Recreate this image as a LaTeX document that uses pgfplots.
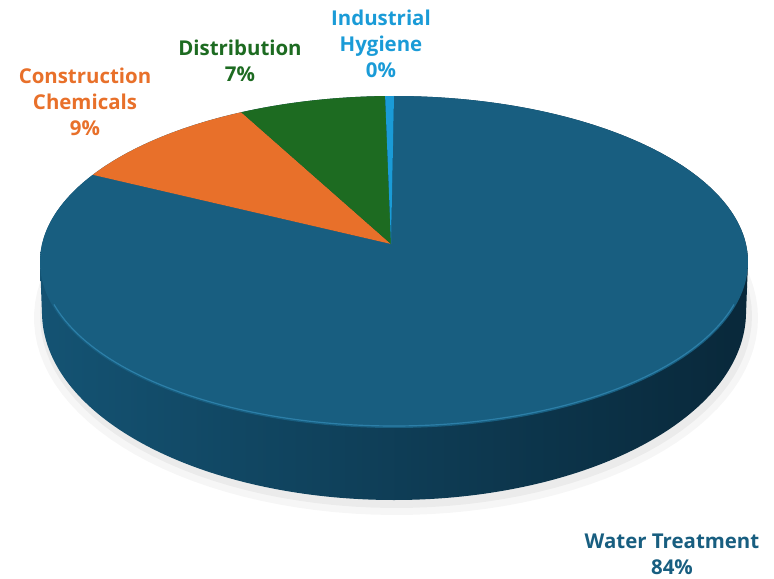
\documentclass[border=0pt]{standalone}
\usepackage{fontspec}
\setmainfont{Open Sans}
\usepackage{pgfplots}
\pgfplotsset{compat=1.18}
\definecolor{cWater}{HTML}{185E80}
\definecolor{cWaterL}{HTML}{2C7FA8}
\definecolor{cSideA}{HTML}{145373}
\definecolor{cSideB}{HTML}{0E3E58}
\definecolor{cSideC}{HTML}{09283A}
\definecolor{cCons}{HTML}{E8702A}
\definecolor{cDist}{HTML}{1D6B21}
\definecolor{cInd}{HTML}{1A9BD7}
% shares (percent)
\def\vWater{83.8}
\def\vCons{9.1}
\def\vDist{6.7}
\def\vInd{0.4}
% geometry (px)
\def\cx{394}\def\cy{262}\def\rx{354}\def\ry{166}
\def\bcy{312}\def\bry{188}\def\brx{352}
\def\px{391}\def\py{244}
\pgfmathsetmacro\aA{90}
\pgfmathsetmacro\aB{\aA-3.6*\vWater}
\pgfmathsetmacro\aC{\aB-3.6*\vCons}
\pgfmathsetmacro\aD{\aC-3.6*\vDist}
\pgfmathsetmacro\aE{\aD-3.6*\vInd}
\begin{document}
\begin{tikzpicture}
\begin{axis}[width=774bp, height=579bp, scale only axis, hide axis,
  xmin=0, xmax=774, ymin=0, ymax=579, y dir=reverse, clip=false]
\path (axis cs:0,0) rectangle (axis cs:774,579);
% shadow
\addplot[fill=black, fill opacity=0.035, draw=none, domain=0:360, samples=120, variable=\t]
  ({\cx+2+(\brx+10)*cos(\t)},{\bcy+6-(\bry+9)*sin(\t)}) -- cycle;
\addplot[fill=black, fill opacity=0.045, draw=none, domain=0:360, samples=120, variable=\t]
  ({\cx+2+(\brx+4)*cos(\t)},{\bcy+4-(\bry+4)*sin(\t)}) -- cycle;
% side silhouette
\addplot[draw=none, left color=cSideA, middle color=cSideB, right color=cSideC, domain=0:360, samples=361, variable=\t]
  ({(sin(\t)>=0) ? \cx+\rx*cos(\t) : \cx+\brx*cos(\t)},
   {(sin(\t)>=0) ? \cy-\ry*sin(\t) : \bcy-\bry*sin(\t)}) -- cycle;
% top face slices
\addplot[fill=cWater, draw=none, domain=\aB:\aA, samples=200, variable=\t]
  ({\cx+\rx*cos(\t)},{\cy-\ry*sin(\t)}) -- (axis cs:\px,\py) -- cycle;
\addplot[fill=cCons, draw=none, domain=\aC:\aB, samples=40, variable=\t]
  ({\cx+\rx*cos(\t)},{\cy-\ry*sin(\t)}) -- (axis cs:\px,\py) -- cycle;
\addplot[fill=cDist, draw=none, domain=\aD:\aC, samples=40, variable=\t]
  ({\cx+\rx*cos(\t)},{\cy-\ry*sin(\t)}) -- (axis cs:\px,\py) -- cycle;
\addplot[fill=cInd, draw=none, domain=\aE:\aD, samples=5, variable=\t]
  ({\cx+\rx*cos(\t)},{\cy-\ry*sin(\t)}) -- (axis cs:\px,\py) -- cycle;
% rim highlight
\addplot[draw=cWaterL, line width=1.2pt, domain=195:345, samples=100, variable=\t]
  ({\cx+(\rx-2)*cos(\t)},{\cy-(\ry-2)*sin(\t)});
% labels
\node[font=\bfseries\fontsize{20.5}{26}\selectfont, text=cCons, align=center] at (axis cs:85,102) {Construction\\Chemicals\\9\%};
\node[font=\bfseries\fontsize{20.5}{26}\selectfont, text=cDist, align=center] at (axis cs:240,61) {Distribution\\7\%};
\node[font=\bfseries\fontsize{20.5}{26}\selectfont, text=cInd, align=center] at (axis cs:381,44) {Industrial\\Hygiene\\0\%};
\node[font=\bfseries\fontsize{20.5}{26}\selectfont, text=cWater, align=center] at (axis cs:672,554) {Water Treatment\\84\%};
\end{axis}
\end{tikzpicture}
\end{document}
